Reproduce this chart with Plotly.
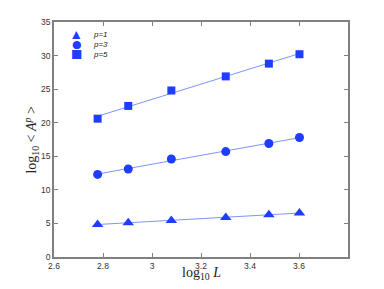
import numpy as np
import plotly.graph_objects as go

log_L = [2.778, 2.903, 3.079, 3.301, 3.477, 3.602]
p1 = [4.85, 5.1, 5.45, 5.9, 6.3, 6.55]
p3 = [12.3, 13.1, 14.6, 15.7, 16.9, 17.8]
p5 = [20.6, 22.5, 24.8, 26.9, 28.8, 30.2]
labels = ["1", "3", "5"]
series = [(p1, "triangle-up", "▲"), (p3, "circle", "●"), (p5, "square", "■")]
x_ticks = [2.6, 2.8, 3.0, 3.2, 3.4, 3.6]
x_tick_text = ["2.6", "2.8", "3", "3.2", "3.4", "3.6"]
y_ticks = [0, 5, 10, 15, 20, 25, 30, 35]

marker_color = "#1f3dff"
line_color = "#7d95ff"
sizes = {"triangle-up": 10, "circle": 9, "square": 8}
title_font = dict(family="Liberation Serif, Times New Roman", size=14, color="#222")

fig = go.Figure()
for ys, sym, _ in series:
    slope, icpt = np.polyfit(log_L, ys, 1)
    xs = np.array([log_L[0], log_L[-1]])
    fig.add_trace(go.Scatter(x=xs, y=slope * xs + icpt, mode="lines",
                             line=dict(color=line_color, width=1), showlegend=False,
                             hoverinfo="skip"))
for (ys, sym, _), lab in zip(series, labels):
    fig.add_trace(go.Scatter(x=log_L, y=ys, mode="markers", name="p=" + lab,
                             showlegend=False,
                             marker=dict(symbol=sym, size=sizes[sym], color=marker_color)))

# compact legend drawn as text
leg_y = [0.950, 0.907, 0.862]
for (ys, sym, glyph), lab, yy in zip(series, labels, leg_y):
    fig.add_annotation(x=0.078, y=yy, xref="paper", yref="paper", text=glyph,
                       showarrow=False, xanchor="center", yanchor="middle",
                       height=10, borderpad=0,
                       font=dict(family="DejaVu Sans", size=11 if glyph != "■" else 12,
                                 color=marker_color))
    fig.add_annotation(x=0.128, y=yy, xref="paper", yref="paper",
                       text="<i>p=" + lab + "</i>", showarrow=False,
                       xanchor="left", yanchor="middle", height=10, borderpad=0,
                       font=dict(family="Liberation Sans, Arial", size=8, color="#222"))

# axis titles placed as annotations for exact position
fig.add_annotation(x=0.5, y=-0.07, xref="paper", yref="paper",
                   text="log<sub>10</sub> <i>L</i>", showarrow=False,
                   xanchor="center", yanchor="middle", font=title_font)
fig.add_annotation(x=-0.078, y=0.5, xref="paper", yref="paper", textangle=-90,
                   text="log<sub>10</sub> &lt; <i>A<sup>p</sup></i> &gt;", showarrow=False,
                   xanchor="center", yanchor="middle", font=title_font)

axis_common = dict(showline=True, linecolor="#808080", linewidth=1.5, mirror="ticks",
                   ticks="inside", ticklen=4, tickcolor="#808080", showgrid=False,
                   zeroline=False, automargin=False,
                   tickfont=dict(family="Liberation Sans, Arial", size=8.5, color="#333"))

# page body adds an 8px offset, so the figure is sized to fit the window
fig.update_layout(
    width=376, height=281,
    margin=dict(l=46, r=36, t=14, b=32),
    paper_bgcolor="white", plot_bgcolor="white",
    xaxis=dict(range=[2.6, 3.8], tickvals=x_ticks, ticktext=x_tick_text, **axis_common),
    yaxis=dict(range=[0, 35], tickvals=y_ticks, **axis_common),
    showlegend=False,
)

fig.write_html("out.html")
